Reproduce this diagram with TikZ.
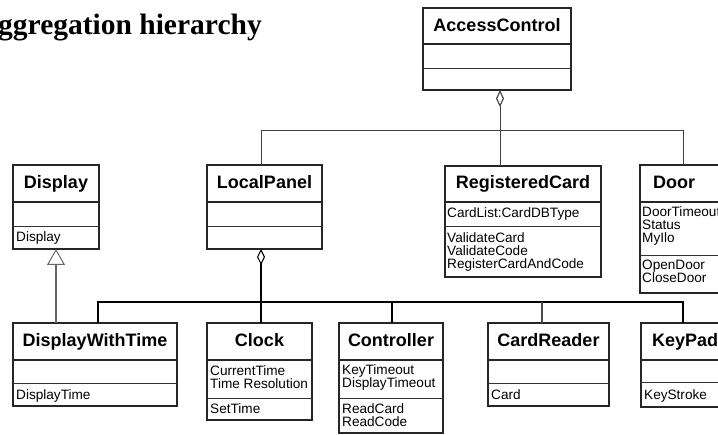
\documentclass[tikz,border=0pt]{standalone}
\usepackage{fontspec}
\setmainfont{Liberation Sans}
\newfontfamily\headfont{Liberation Serif}
\usetikzlibrary{arrows.meta}

% box with three compartments: id, x, y, width, height, first rule, second rule (relative to top)
\newcommand\umlclass[7]{%
  \node[classbox, minimum width=#4pt, minimum height=#5pt] (#1) at (#2,#3) {};
  \draw[titlerule] ([yshift=-#6pt]#1.north west) -- ([yshift=-#6pt]#1.north east);
  \draw[rule] ([yshift=-#7pt]#1.north west) -- ([yshift=-#7pt]#1.north east);
}

\begin{document}
\begin{tikzpicture}[x=1pt, y=-1pt,
  classbox/.style={draw=black!85, line width=1.1pt, fill=white, inner sep=0pt, outer sep=0pt, anchor=north west},
  titlerule/.style={draw=black!85, line width=1.5pt},
  rule/.style={draw=black!80, line width=0.9pt},
  cname/.style={font=\fontsize{18}{18}\selectfont\bfseries, inner sep=0pt, anchor=base},
  member/.style={font=\fontsize{13.6}{13}\selectfont, inner sep=0pt, anchor=north west, align=left},
  link/.style={draw=black!75, line width=1pt},
  bus/.style={draw=black, line width=1.6pt},
  hubline/.style={draw=black, line width=2.6pt},
]
\useasboundingbox (0,0) rectangle (718,435);
\clip (0,0) rectangle (718,435);

% heading
\node[anchor=base west, inner sep=0pt, font=\headfont\bfseries\fontsize{29.5}{30}\selectfont] (heading) at (-2,35) {ggregation hierarchy};

% classes
\umlclass{ac}{423}{8}{148}{82}{36}{60}
\node[cname] (ac-t) at (497,32) {AccessControl};

\umlclass{dsp}{13}{165}{86}{84}{37}{61}
\node[cname] (dsp-t) at (56,189) {Display};
\node[member] (dsp-m) at (16,231.5) {Display};

\umlclass{lp}{207}{165}{115}{84}{37}{61}
\node[cname] (lp-t) at (264.5,189) {LocalPanel};

\umlclass{rc}{445}{166}{156}{111}{36}{60}
\node[cname] (rc-t) at (523,189) {RegisteredCard};
\node[member] (rc-a) at (447,207.5) {CardList:CardDBType};
\node[member] (rc-m) at (447,232.5) {ValidateCard\\ValidateCode\\RegisterCardAndCode};

\umlclass{door}{640}{165}{110}{128}{37}{90}
\node[cname] (door-t) at (674,189) {Door};
\node[member] (door-a) at (642,206.5) {DoorTimeout\\Status\\MyIlo};
\node[member] (door-m) at (642,259.5) {OpenDoor\\CloseDoor};

\umlclass{dwt}{13}{323}{164}{83}{37}{60}
\node[cname] (dwt-t) at (95,347) {DisplayWithTime};
\node[member] (dwt-m) at (16,389.5) {DisplayTime};

\umlclass{clk}{207}{323}{105}{97}{37}{75}
\node[cname] (clk-t) at (259.5,347) {Clock};
\node[member] (clk-a) at (210,365.5) {CurrentTime\\Time Resolution};
\node[member] (clk-m) at (210,403.5) {SetTime};

\umlclass{ctl}{339}{323}{104}{110}{37}{75}
\node[cname] (ctl-t) at (391,347) {Controller};
\node[member] (ctl-a) at (342,364.5) {KeyTimeout\\DisplayTimeout};
\node[member] (ctl-m) at (342,403.5) {ReadCard\\ReadCode};

\umlclass{crd}{488}{323}{121}{83}{37}{60}
\node[cname] (crd-t) at (548.5,347) {CardReader};
\node[member] (crd-m) at (491,389.5) {Card};

\umlclass{kp}{641}{323}{110}{84}{37}{59}
\node[cname, anchor=base west] (kp-t) at (652,347) {KeyPad};
\node[member] (kp-m) at (644,389.5) {KeyStroke};

% attachment points
\coordinate (ac-out) at ([xshift=3pt]ac.south);
\coordinate (hub) at (500,131);
\coordinate (lp-in) at ([xshift=-3.5pt]lp.north);
\coordinate (rc-in) at (500,166);
\coordinate (door-in) at (683,165);
\coordinate (lp-out) at ([xshift=-3.5pt]lp.south);
\coordinate (junction) at (261,302);
\coordinate (dwt-in) at (98,323);
\coordinate (dwt-up) at (56,323);
\coordinate (dsp-in) at (56,249);
\coordinate (clk-in) at (261,323);
\coordinate (ctl-in) at (392,323);
\coordinate (crd-in) at (542,323);
\coordinate (kp-in) at (683,323);

% AccessControl aggregates LocalPanel, RegisteredCard and Door
\draw[link, {Diamond[open, length=17pt, width=8pt, line width=1.1pt]}-] (ac-out) -- (hub);
\draw[link] (lp-in) -- (lp-in |- hub) -- (door-in |- hub) -- (door-in);
\draw[link] (rc-in) -- (hub);

% LocalPanel aggregates the devices
\draw[hubline, {Diamond[open, length=16pt, width=8pt, line width=1.1pt]}-] (lp-out) -- (junction);
\draw[bus] (dwt-in) -- (dwt-in |- junction) -- (kp-in |- junction) -- (kp-in);
\draw[bus] (clk-in) -- (junction);
\draw[bus] (ctl-in) -- (ctl-in |- junction);
\draw[bus, draw=black!70] (crd-in) -- (crd-in |- junction);

% DisplayWithTime specialises Display
\draw[link, draw=black!60, line width=1.4pt, {Triangle[open, length=16pt, width=18pt, line width=1pt]}-] (dsp-in) -- (dwt-up);
\end{tikzpicture}
\end{document}
